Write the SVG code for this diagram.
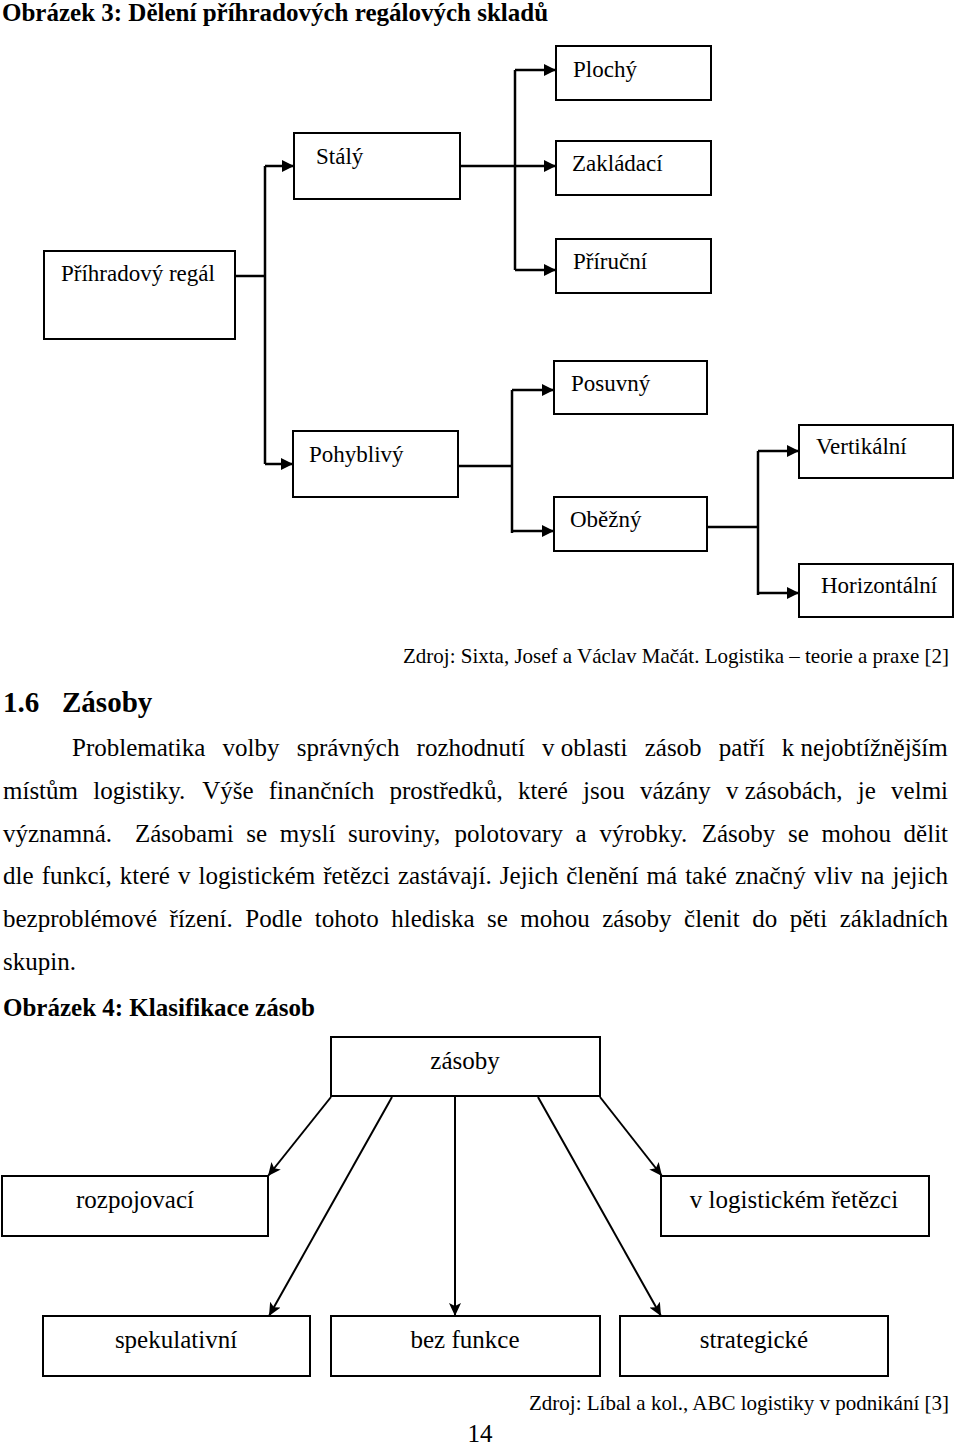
<svg xmlns="http://www.w3.org/2000/svg" width="960" height="1446" viewBox="0 0 960 1446">
<defs>
<style>
text{font-family:"Liberation Serif","Times New Roman",serif;fill:#000}
.box{fill:#fff;stroke:#000;stroke-width:2}
.lt{font-size:23px}
.lb{font-size:25px;text-anchor:middle}
.con{fill:none;stroke:#000;stroke-width:2.5}
.con2{fill:none;stroke:#000;stroke-width:2}
.body{font-size:25px}
.bold{font-weight:bold}
.src{font-size:21px;text-anchor:end}
</style>
<marker id="ah" markerUnits="userSpaceOnUse" markerWidth="13" markerHeight="12" refX="12" refY="6" orient="auto">
<path d="M0,0 L12,6 L0,12 z" fill="#000"/>
</marker>
<marker id="ah2" markerUnits="userSpaceOnUse" markerWidth="14" markerHeight="12" refX="13" refY="6" orient="auto">
<path d="M0,0 L13,6 L0,12 L3,6 z" fill="#000"/>
</marker>
</defs>
<rect width="960" height="1446" fill="#fff"/>

<text class="body bold" x="2" y="21">Obrázek 3: Dělení příhradových regálových skladů</text>

<g id="connectors-top">
<path class="con" d="M235,276 H265"/>
<path class="con" d="M265,166 V464"/>
<path class="con" d="M265,166 H294" marker-end="url(#ah)"/>
<path class="con" d="M265,464 H293" marker-end="url(#ah)"/>
<path class="con" d="M461,166 H556" marker-end="url(#ah)"/>
<path class="con" d="M515,70 V270"/>
<path class="con" d="M515,70 H556" marker-end="url(#ah)"/>
<path class="con" d="M515,270 H556" marker-end="url(#ah)"/>
<path class="con" d="M459,466 H512"/>
<path class="con" d="M512,390 V533"/>
<path class="con" d="M512,390 H554" marker-end="url(#ah)"/>
<path class="con" d="M512,531 H554" marker-end="url(#ah)"/>
<path class="con" d="M707,527 H758"/>
<path class="con" d="M758,451 V595"/>
<path class="con" d="M758,451 H799" marker-end="url(#ah)"/>
<path class="con" d="M758,593 H799" marker-end="url(#ah)"/>
</g>

<g id="n-plochy"><rect class="box" x="556" y="46" width="155" height="54"/><text class="lt" x="573" y="77">Plochý</text></g>
<g id="n-zakladaci"><rect class="box" x="556" y="141" width="155" height="54"/><text class="lt" x="572" y="171">Zakládací</text></g>
<g id="n-prirucni"><rect class="box" x="556" y="239" width="155" height="54"/><text class="lt" x="573" y="269">Příruční</text></g>
<g id="n-staly"><rect class="box" x="294" y="133" width="166" height="66"/><text class="lt" x="316" y="164">Stálý</text></g>
<g id="n-prihradovy"><rect class="box" x="44" y="251" width="191" height="88"/><text class="lt" x="61" y="281">Příhradový regál</text></g>
<g id="n-pohyblivy"><rect class="box" x="293" y="431" width="165" height="66"/><text class="lt" x="309" y="462">Pohyblivý</text></g>
<g id="n-posuvny"><rect class="box" x="554" y="361" width="153" height="53"/><text class="lt" x="571" y="391">Posuvný</text></g>
<g id="n-obezny"><rect class="box" x="554" y="497" width="153" height="54"/><text class="lt" x="570" y="527">Oběžný</text></g>
<g id="n-vertikalni"><rect class="box" x="799" y="425" width="154" height="53"/><text class="lt" x="816" y="454">Vertikální</text></g>
<g id="n-horizontalni"><rect class="box" x="799" y="564" width="154" height="53"/><text class="lt" x="821" y="593">Horizontální</text></g>

<text class="src" x="949" y="663">Zdroj: Sixta, Josef a Václav Mačát. Logistika – teorie a praxe [2]</text>

<text class="bold" style="font-size:29px" x="3" y="712">1.6</text>
<text class="bold" style="font-size:29px" x="62" y="712">Zásoby</text>

<text class="body" y="756"><tspan x="72">Problematika</tspan><tspan x="222.5">volby</tspan><tspan x="296.7">správných</tspan><tspan x="416.6">rozhodnutí</tspan><tspan x="542.1">v oblasti</tspan><tspan x="644.7">zásob</tspan><tspan x="718.8">patří</tspan><tspan x="781.8">k nejobtížnějším</tspan></text>
<text class="body" y="799"><tspan x="3">místům</tspan><tspan x="93.2">logistiky.</tspan><tspan x="202.2">Výše</tspan><tspan x="268.8">finančních</tspan><tspan x="389.5">prostředků,</tspan><tspan x="517.9">které</tspan><tspan x="583.1">jsou</tspan><tspan x="640">vázány</tspan><tspan x="726">v zásobách,</tspan><tspan x="857.8">je</tspan><tspan x="891.1">velmi</tspan></text>
<text class="body" y="842"><tspan x="3">významná.</tspan><tspan x="135">Zásobami</tspan><tspan x="246.3">se</tspan><tspan x="279.8">myslí</tspan><tspan x="348.1">suroviny,</tspan><tspan x="454.6">polotovary</tspan><tspan x="575.6">a</tspan><tspan x="599.4">výrobky.</tspan><tspan x="701.7">Zásoby</tspan><tspan x="788">se</tspan><tspan x="821.5">mohou</tspan><tspan x="903.6">dělit</tspan></text>
<text class="body" x="3" y="884" textLength="945" lengthAdjust="spacing" style="word-spacing:1.8px">dle funkcí, které v logistickém řetězci zastávají. Jejich členění má také značný vliv na jejich</text>
<text class="body" y="927"><tspan x="3">bezproblémové</tspan><tspan x="169.6">řízení.</tspan><tspan x="245.3">Podle</tspan><tspan x="314.8">tohoto</tspan><tspan x="391.2">hlediska</tspan><tspan x="487">se</tspan><tspan x="520.3">mohou</tspan><tspan x="602.2">zásoby</tspan><tspan x="684.1">členit</tspan><tspan x="752.2">do</tspan><tspan x="789.7">pěti</tspan><tspan x="839.7">základních</tspan></text>
<text class="body" x="3" y="970">skupin.</text>

<text class="body bold" x="3" y="1016">Obrázek 4: Klasifikace zásob</text>

<g id="connectors-bottom">
<path class="con2" d="M331,1097 L268,1176" marker-end="url(#ah2)"/>
<path class="con2" d="M392,1097 L269,1316" marker-end="url(#ah2)"/>
<path class="con2" d="M455,1097 L455,1316" marker-end="url(#ah2)"/>
<path class="con2" d="M538,1097 L661,1316" marker-end="url(#ah2)"/>
<path class="con2" d="M600,1097 L662,1176" marker-end="url(#ah2)"/>
</g>

<g id="n-zasoby"><rect class="box" x="331" y="1037" width="269" height="59"/><text class="lb" x="465" y="1069">zásoby</text></g>
<g id="n-rozpojovaci"><rect class="box" x="2" y="1176" width="266" height="60"/><text class="lb" x="135" y="1208">rozpojovací</text></g>
<g id="n-vlogistickem"><rect class="box" x="661" y="1176" width="268" height="60"/><text class="lb" x="794" y="1208">v logistickém řetězci</text></g>
<g id="n-spekulativni"><rect class="box" x="43" y="1316" width="267" height="60"/><text class="lb" x="176" y="1348">spekulativní</text></g>
<g id="n-bezfunkce"><rect class="box" x="331" y="1316" width="269" height="60"/><text class="lb" x="465" y="1348">bez funkce</text></g>
<g id="n-strategicke"><rect class="box" x="620" y="1316" width="268" height="60"/><text class="lb" x="754" y="1348">strategické</text></g>

<text class="src" x="949" y="1410">Zdroj: Líbal a kol., ABC logistiky v podnikání [3]</text>
<text class="body" x="480" y="1442" text-anchor="middle">14</text>
</svg>
